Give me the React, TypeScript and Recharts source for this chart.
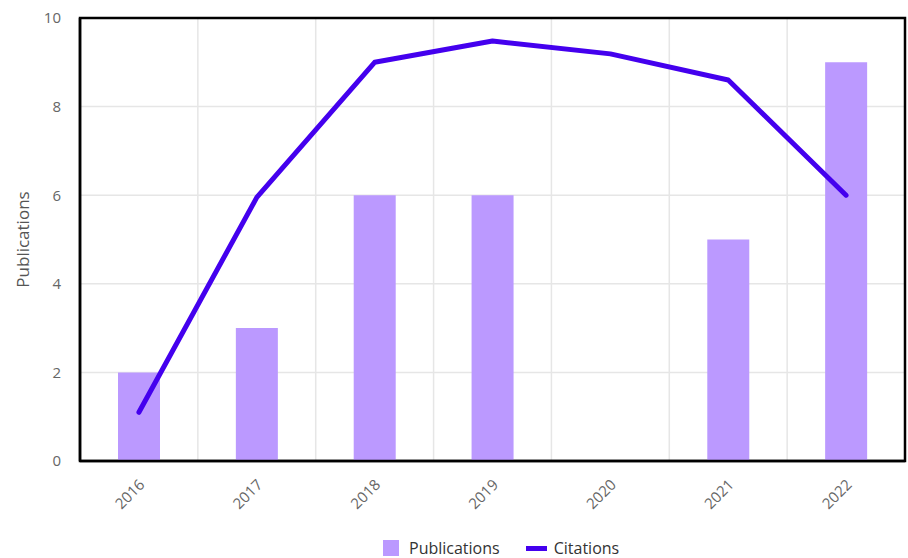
import {
  ComposedChart,
  Bar,
  Line,
  XAxis,
  YAxis,
  CartesianGrid,
  Legend,
  ReferenceArea,
} from "recharts";

const years = ["2016", "2017", "2018", "2019", "2020", "2021", "2022"];
const publications = [2, 3, 6, 6, 0, 5, 9];
const citations = [1.1, 5.95, 9.0, 9.48, 9.19, 8.6, 6.0];
const yTicks = [0, 2, 4, 6, 8, 10];
const legendOrder = ["Publications", "Citations"];

const chartData = years.map((year, i) => ({
  year,
  Publications: publications[i],
  Citations: citations[i],
}));

const BAR_COLOR = "#bb99ff";
const LINE_COLOR = "#4400ee";
const FONT = "'Open Sans', sans-serif";

function YearTick({ x, y, payload }: any) {
  return (
    <g transform={`translate(${x + 3},${y + 19})`}>
      <text
        x={0}
        y={0}
        dy="0.35em"
        textAnchor="end"
        fill="#666"
        fontSize={15}
        fontFamily={FONT}
        transform="rotate(-45)"
      >
        {payload.value}
      </text>
    </g>
  );
}

function LegendContent({ payload }: any) {
  const items = [...(payload || [])].sort(
    (a: any, b: any) => legendOrder.indexOf(a.value) - legendOrder.indexOf(b.value)
  );
  return (
    <div
      style={{
        display: "flex",
        justifyContent: "flex-start",
        alignItems: "center",
        paddingLeft: 370,
        height: 20,
        lineHeight: "20px",
        fontFamily: FONT,
        fontSize: 16,
        color: "#333",
      }}
    >
      {items.map((entry: any) => (
        <div
          key={entry.value}
          style={{ display: "flex", alignItems: "center", margin: "0 13px" }}
        >
          {entry.value === "Publications" ? (
            <span style={{ width: 16, height: 16, background: BAR_COLOR, marginRight: 10 }} />
          ) : (
            <span style={{ width: 21, height: 5, background: LINE_COLOR, marginRight: 7 }} />
          )}
          <span>{entry.value}</span>
        </div>
      ))}
    </div>
  );
}

export default function App() {
  return (
    <div style={{ position: "absolute", left: 0, top: 0, width: 908, height: 558, fontFamily: FONT }}>
      <ComposedChart
        width={908}
        height={558}
        data={chartData}
        margin={{ top: 18, right: 3, left: 0, bottom: 0 }}
      >
        <CartesianGrid
          stroke="#e6e6e6"
          strokeWidth={1.5}
          verticalCoordinatesGenerator={({ offset }: any) =>
            years.slice(1).map((_, i) => offset.left + ((i + 1) * offset.width) / years.length)
          }
        />
        <XAxis
          dataKey="year"
          height={77}
          tickLine={false}
          tickSize={0}
          tick={<YearTick />}
          interval={0}
          axisLine={{ stroke: "#000", strokeWidth: 2.5 }}
        />
        <YAxis
          width={80}
          domain={[0, 10]}
          ticks={yTicks}
          tickLine={false}
          tickSize={0}
          tickMargin={19}
          tick={{ fill: "#666", fontSize: 15, fontFamily: FONT }}
          axisLine={{ stroke: "#000", strokeWidth: 2.5 }}
          label={{
            value: "Publications",
            angle: -90,
            position: "insideLeft",
            offset: 23,
            style: { textAnchor: "middle", fill: "#555", fontSize: 17, fontFamily: FONT },
          }}
        />
        <Bar dataKey="Publications" fill={BAR_COLOR} barSize={42} isAnimationActive={false} />
        <Line
          type="linear"
          dataKey="Citations"
          stroke={LINE_COLOR}
          strokeWidth={5}
          strokeLinecap="round"
          strokeLinejoin="round"
          dot={false}
          activeDot={false}
          isAnimationActive={false}
        />
        <ReferenceArea
          x1={years[0]}
          x2={years[years.length - 1]}
          y1={yTicks[0]}
          y2={yTicks[yTicks.length - 1]}
          fill="none"
          fillOpacity={0}
          stroke="#000"
          strokeWidth={2.5}
          ifOverflow="visible"
        />
        <Legend verticalAlign="bottom" content={<LegendContent />} />
      </ComposedChart>
    </div>
  );
}
